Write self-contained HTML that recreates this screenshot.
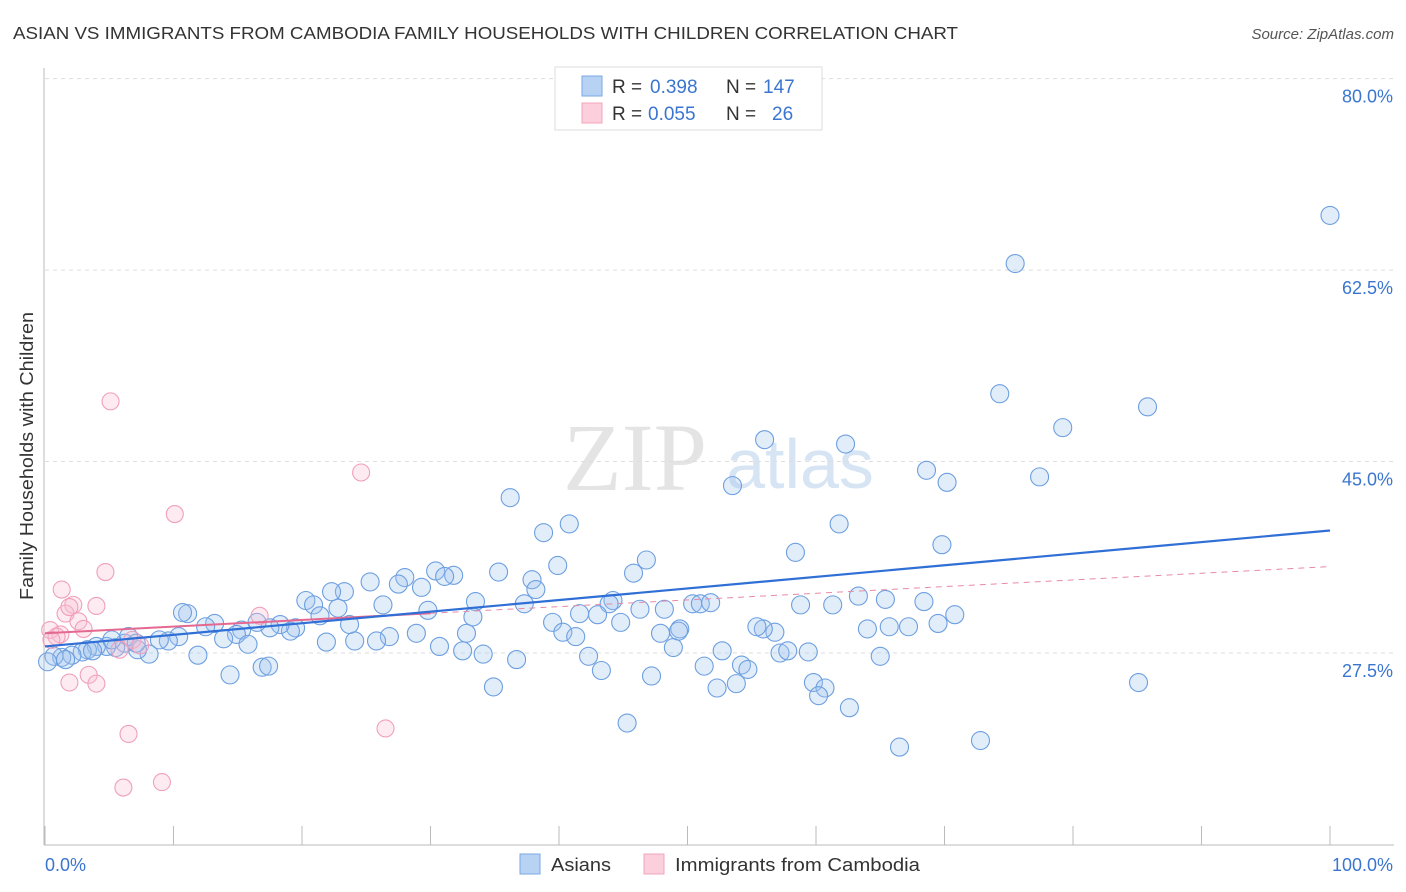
<!DOCTYPE html>
<html><head><meta charset="utf-8"><style>
body{margin:0;background:#fff;font-family:"Liberation Sans",sans-serif;}
svg{display:block}
</style></head><body>
<svg width="1406" height="892" viewBox="0 0 1406 892">
<text x="13" y="39" font-size="17.5" fill="#333" textLength="945" lengthAdjust="spacingAndGlyphs">ASIAN VS IMMIGRANTS FROM CAMBODIA FAMILY HOUSEHOLDS WITH CHILDREN CORRELATION CHART</text>
<text x="1394" y="39" font-size="15" fill="#555" font-style="italic" text-anchor="end">Source: ZipAtlas.com</text>
<g>
<text x="635" y="490" font-size="96" fill="#e4e4e4" font-family="Liberation Serif,serif" text-anchor="middle">ZIP</text>
<text x="800" y="488" font-size="70" fill="#d6e4f4" text-anchor="middle">atlas</text>
</g>
<g id="grid"></g>
<g id="axes"></g>
<g id="marks"></g>
<text transform="translate(33,456) rotate(-90)" font-size="18" fill="#333" text-anchor="middle" textLength="288" lengthAdjust="spacingAndGlyphs">Family Households with Children</text>
<g>
<rect x="555" y="67" width="267" height="63" fill="#fff" stroke="#ddd"/>
<rect x="582" y="76" width="20" height="20" fill="#b8d2f4" stroke="#7aa8e4"/>
<rect x="582" y="103" width="20" height="20" fill="#fbd0dc" stroke="#f0a4bb"/>
<text x="612" y="93" font-size="19" fill="#333">R = <tspan x="650" fill="#3a75d0">0.398</tspan><tspan x="726">N = </tspan><tspan x="763" fill="#3a75d0">147</tspan></text>
<text x="612" y="120" font-size="19" fill="#333">R = <tspan x="648" fill="#3a75d0">0.055</tspan><tspan x="726">N = </tspan><tspan fill="#3a75d0" x="772">26</tspan></text>
</g>
<g>
<rect x="520" y="854" width="20" height="20" fill="#b8d2f4" stroke="#7aa8e4"/>
<text x="551" y="871" font-size="18" fill="#333" textLength="60" lengthAdjust="spacingAndGlyphs">Asians</text>
<rect x="644" y="854" width="20" height="20" fill="#fbd0dc" stroke="#f0a4bb"/>
<text x="675" y="871" font-size="18" fill="#333" textLength="245" lengthAdjust="spacingAndGlyphs">Immigrants from Cambodia</text>
</g>
</svg>
<script>
const yTicks=[80.0,62.5,45.0,27.5];
const yTickLabels=["80.0%","62.5%","45.0%","27.5%"];
const xTicks=[0,10,20,30,40,50,60,70,80,90,100];
const asianX=[100,75.5,74.3,85.8,79.2,56.0,62.3,53.5,68.6,70.2,77.4,36.2,38.8,40.8,61.8,69.8,58.4,39.9,46.8,45.8,35.3,37.9,38.2,30.4,31.8,31.1,28.0,27.5,25.3,29.3,23.3,22.3,20.3,20.9,22.8,26.3,29.8,33.5,37.3,44.2,43.9,41.6,43.0,46.3,48.2,50.4,51.0,51.8,58.8,61.3,63.3,65.4,68.4,70.8,69.5,67.2,65.7,64.0,56.8,55.9,55.4,49.4,47.9,44.8,39.5,40.3,41.3,33.3,32.8,28.9,26.8,25.8,24.1,23.7,21.9,21.4,19.5,19.1,18.3,17.5,16.5,15.3,14.9,13.9,13.2,12.5,11.1,10.7,10.4,9.6,8.9,8.1,7.2,6.2,5.5,4.8,4.0,3.3,2.9,2.1,1.3,0.7,0.2,11.9,15.8,14.4,16.9,17.4,30.7,32.5,34.1,36.7,42.3,43.3,47.2,48.9,49.3,51.3,52.7,52.3,53.8,54.2,54.7,57.2,57.8,59.4,59.8,60.7,60.2,62.6,65.0,34.9,45.3,66.5,72.8,85.1,6.5,5.2,7.1,3.7,1.6];
const asianY=[67.5,63.1,51.2,50.0,48.1,47.0,46.6,42.8,44.2,43.1,43.6,41.7,38.5,39.3,39.3,37.4,36.7,35.5,36.0,34.8,34.9,34.2,33.3,35.0,34.6,34.5,34.4,33.8,34.0,33.5,33.1,33.1,32.3,31.9,31.6,31.9,31.4,32.2,32.0,32.3,32.0,31.1,31.0,31.5,31.5,32.0,32.0,32.1,31.9,31.9,32.7,32.4,32.2,31.0,30.2,29.9,29.9,29.7,29.4,29.7,29.9,29.7,29.3,30.3,30.3,29.4,29.0,30.8,29.3,29.3,29.0,28.6,28.6,30.1,28.5,30.9,29.8,29.5,30.1,29.8,30.3,29.6,29.2,28.8,30.2,29.9,31.1,31.2,29.0,28.6,28.7,27.4,27.8,28.4,28.0,28.1,28.1,27.8,27.6,27.3,27.1,27.2,26.7,27.3,28.3,25.5,26.2,26.3,28.1,27.7,27.4,26.9,27.2,25.9,25.4,28.0,29.5,26.3,27.7,24.3,24.7,26.4,26.0,27.5,27.7,27.6,24.8,24.3,23.6,22.5,27.2,24.4,21.1,18.9,19.5,24.8,29.0,28.7,28.4,27.7,26.9];
const cambX=[5.1,24.6,10.1,4.7,1.3,2.2,4.0,1.6,2.6,0.4,1.2,3.0,0.9,0.5,5.8,6.8,16.7,3.4,4.0,1.9,6.5,26.5,9.1,6.1,7.4,1.9];
const cambY=[50.5,44.0,40.2,34.9,33.3,31.9,31.8,31.1,30.4,29.6,29.2,29.7,29.0,28.7,27.8,28.7,30.9,25.5,24.7,24.8,20.1,20.6,15.7,15.2,28.2,31.7];
const asianTrend=[28.1,38.7];
const cambTrend=[29.3,35.4];
const cambSolidEnd=30;

const NS="http://www.w3.org/2000/svg";
const xs=v=>45+v*12.85;
const ys=v=>653-(v-27.5)*10.94;
function mk(tag,attrs,parent){const e=document.createElementNS(NS,tag);for(const k in attrs)e.setAttribute(k,attrs[k]);parent.appendChild(e);return e;}
const grid=document.getElementById('grid'),axes=document.getElementById('axes'),marks=document.getElementById('marks');
yTicks.forEach((t,i)=>{
  const l=mk('line',{x1:45,x2:1394,y1:ys(t),y2:ys(t),stroke:'#ddd','stroke-dasharray':'4,4'},grid);
  
  
  const tx=mk('text',{x:1393,y:ys(t)+24,'font-size':18,fill:'#3a75d0','text-anchor':'end'},axes);
  tx.textContent=yTickLabels[i];
  
  
});
let a=mk('line',{x1:44,x2:44,y1:68,y2:845,stroke:'#bbb'},axes);


a=mk('line',{x1:44,x2:1394,y1:845,y2:845,stroke:'#bbb'},axes);


xTicks.forEach(t=>{
  const l=mk('line',{x1:xs(t),x2:xs(t),y1:826,y2:845,stroke:'#bbb'},axes);
  
  
});
let t0=mk('text',{x:45,y:871,'font-size':18,fill:'#3a75d0'},axes);t0.textContent='0.0%';


t0=mk('text',{x:1393,y:871,'font-size':18,fill:'#3a75d0','text-anchor':'end'},axes);t0.textContent='100.0%';



asianX.forEach((x,i)=>{
  const c=mk('circle',{cx:xs(x),cy:ys(asianY[i]),r:9,fill:'rgba(160,196,240,0.3)',stroke:'#6d9fe0','stroke-width':1.1},marks);
  
  
});
cambX.forEach((x,i)=>{
  const c=mk('circle',{cx:xs(x),cy:ys(cambY[i]),r:8.5,fill:'rgba(248,190,208,0.3)',stroke:'#f0a0ba','stroke-width':1.1},marks);
  
  
});
const cy=x=>cambTrend[0]+(cambTrend[1]-cambTrend[0])*x/100;
let tl=mk('line',{x1:xs(cambSolidEnd),y1:ys(cy(cambSolidEnd)),x2:xs(100),y2:ys(cambTrend[1]),stroke:'#e88aa8','stroke-width':1,'stroke-dasharray':'6,5'},marks);


tl=mk('line',{x1:xs(0),y1:ys(cambTrend[0]),x2:xs(cambSolidEnd),y2:ys(cy(cambSolidEnd)),stroke:'#e4688f','stroke-width':2},marks);


tl=mk('line',{x1:xs(0),y1:ys(asianTrend[0]),x2:xs(100),y2:ys(asianTrend[1]),stroke:'#2f6fd6','stroke-width':2.2},marks);


</script>
</body></html>
